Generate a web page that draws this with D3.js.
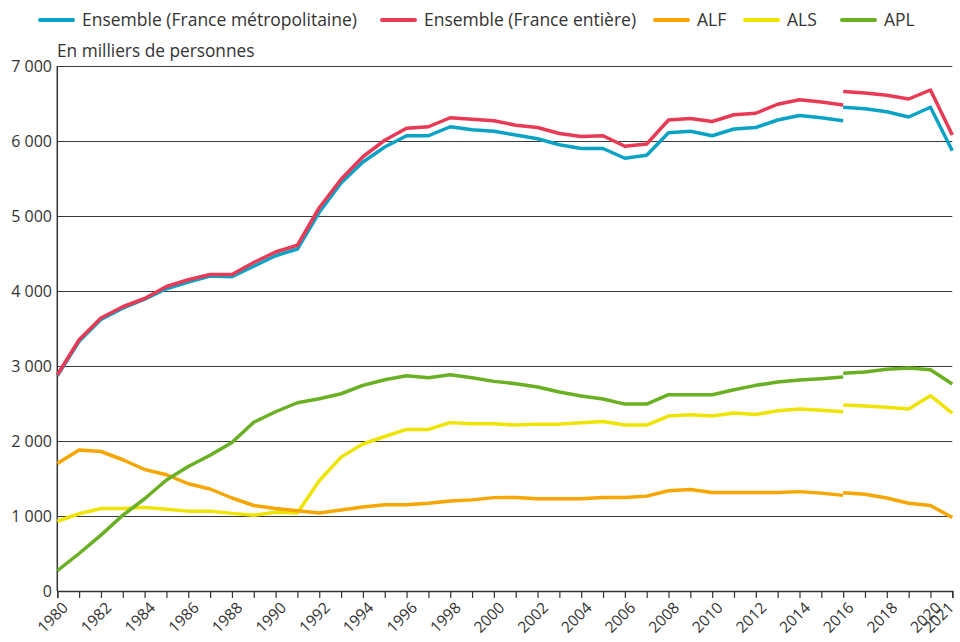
<!DOCTYPE html>
<html>
<head>
<meta charset="utf-8">
<script src="https://cdn.jsdelivr.net/npm/d3@7"></script>
<style>
  body { margin: 0; background: #fff; }
  svg { font-family: "Open Sans", sans-serif; }
</style>
</head>
<body>
<script>
// years: first segment 1980-2016, second segment (new series) 2016-2021
const years1 = d3.range(1980, 2017);
const years2 = d3.range(2016, 2022);

const metro1 = [2870, 3330, 3620, 3770, 3890, 4030, 4120, 4200, 4190, 4330, 4470, 4560,
  5050, 5440, 5720, 5920, 6070, 6070, 6190, 6150, 6130, 6080, 6030, 5950,
  5900, 5900, 5770, 5810, 6110, 6130, 6070, 6160, 6180, 6280, 6340, 6310, 6270];
const metro2 = [6450, 6430, 6390, 6320, 6450, 5870];

const entiere1 = [2880, 3350, 3640, 3790, 3900, 4060, 4150, 4220, 4220, 4380, 4520, 4610,
  5110, 5490, 5790, 6010, 6170, 6190, 6310, 6290, 6270, 6210, 6180, 6100,
  6060, 6070, 5930, 5960, 6280, 6300, 6260, 6350, 6370, 6490, 6550, 6520, 6480];
const entiere2 = [6660, 6640, 6610, 6560, 6680, 6080];

const alf1 = [1700, 1880, 1860, 1750, 1620, 1550, 1430, 1360, 1240, 1140, 1100, 1070,
  1040, 1080, 1120, 1150, 1150, 1170, 1200, 1215, 1245, 1247, 1230, 1230,
  1230, 1247, 1247, 1265, 1336, 1354, 1314, 1314, 1314, 1314, 1325, 1305, 1275];
const alf2 = [1310, 1290, 1240, 1170, 1140, 980];

const als1 = [930, 1030, 1100, 1100, 1115, 1090, 1065, 1065, 1035, 1010, 1050, 1040,
  1470, 1785, 1960, 2060, 2155, 2155, 2245, 2230, 2230, 2212, 2225, 2225,
  2243, 2261, 2212, 2212, 2332, 2350, 2332, 2372, 2354, 2403, 2427, 2410, 2390];
const als2 = [2480, 2467, 2450, 2427, 2604, 2373];

const apl1 = [270, 500, 745, 1010, 1230, 1480, 1660, 1810, 1980, 2250, 2390, 2510,
  2563, 2630, 2742, 2817, 2871, 2844, 2884, 2844, 2795, 2764, 2719, 2653,
  2599, 2559, 2492, 2492, 2617, 2617, 2617, 2684, 2742, 2786, 2813, 2830, 2853];
const apl2 = [2902, 2920, 2956, 2973, 2951, 2760];

const yTicks = [0, 1000, 2000, 3000, 4000, 5000, 6000, 7000];
const xLabels = d3.range(1980, 2021, 2).concat([2021]);

const series = [
  {name: "ALS", color: "#eee400", a: als1, b: als2},
  {name: "ALF", color: "#f7a600", a: alf1, b: alf2},
  {name: "APL", color: "#69b023", a: apl1, b: apl2},
  {name: "Ensemble (France métropolitaine)", color: "#0aa3c6", a: metro1, b: metro2},
  {name: "Ensemble (France entière)", color: "#e83a55", a: entiere1, b: entiere2}
];
const legendOrder = [3, 4, 1, 0, 2];

const width = 960, height = 642;
const x = d3.scaleLinear().domain([1980, 2021]).range([57.3, 952.3]);
const y = d3.scaleLinear().domain([0, 7000]).range([591, 66]);

const fr = d3.formatLocale({decimal: ",", thousands: " ", grouping: [3], currency: ["", " €"]});
const fmt = fr.format(",");

const svg = d3.select("body").append("svg")
  .attr("width", width)
  .attr("height", height);

// gridlines
svg.append("g").selectAll("line")
  .data(yTicks.filter(d => d > 0))
  .join("line")
  .attr("x1", x(1980)).attr("x2", x(2021))
  .attr("y1", d => Math.round(y(d)) + 0.5).attr("y2", d => Math.round(y(d)) + 0.5)
  .attr("stroke", "#3a3a3a").attr("stroke-width", 1);

// y labels
svg.append("g").selectAll("text")
  .data(yTicks)
  .join("text")
  .attr("x", 52).attr("y", d => y(d) + 6)
  .attr("text-anchor", "end")
  .attr("font-size", 16).attr("fill", "#333")
  .text(d => fmt(d));

svg.append("text")
  .attr("x", 57).attr("y", 57)
  .attr("font-size", 17.3).attr("fill", "#333")
  .text("En milliers de personnes");

// x axis
const xAxis = svg.append("g")
  .attr("transform", `translate(0,${y(0)})`)
  .call(d3.axisBottom(x).tickValues(d3.range(1980, 2022)).tickSize(7).tickFormat(""));
xAxis.select(".domain").attr("stroke", "#333").attr("stroke-width", 1.5);
xAxis.selectAll(".tick line").attr("stroke", "#333").attr("stroke-width", 1.2);

svg.append("g").selectAll("text")
  .data(xLabels)
  .join("text")
  .attr("transform", d => `translate(${x(d) + (d === 2021 ? -5 : 4)},${y(0) + 10}) rotate(-45)`)
  .attr("text-anchor", "end")
  .attr("dy", "0.7em")
  .attr("font-size", 15.5).attr("fill", "#333")
  .text(d => d);

// y axis line
svg.append("line")
  .attr("x1", x(1980)).attr("x2", x(1980))
  .attr("y1", y(7000)).attr("y2", y(0))
  .attr("stroke", "#333").attr("stroke-width", 1.5);

// lines
const line = d3.line().x(d => x(d[0])).y(d => y(d[1]));
const lines = svg.append("g");
series.forEach(s => {
  [[years1, s.a], [years2, s.b]].forEach(([yr, v]) => {
    lines.append("path")
      .datum(d3.zip(yr, v))
      .attr("d", line)
      .attr("fill", "none")
      .attr("stroke", s.color)
      .attr("stroke-width", 3.5)
      .attr("stroke-linejoin", "round");
  });
});

// legend
const legendX = [40, 382, 655, 745, 842];
const legend = svg.append("g").selectAll("g")
  .data(legendOrder)
  .join("g")
  .attr("transform", (d, i) => `translate(${legendX[i]},20)`);
legend.append("line")
  .attr("x1", 0).attr("x2", 33)
  .attr("stroke", d => series[d].color)
  .attr("stroke-width", 4).attr("stroke-linecap", "round");
legend.append("text")
  .attr("x", 42).attr("y", 6)
  .attr("font-size", 17.5).attr("fill", "#333")
  .text(d => series[d].name);
</script>
</body>
</html>
